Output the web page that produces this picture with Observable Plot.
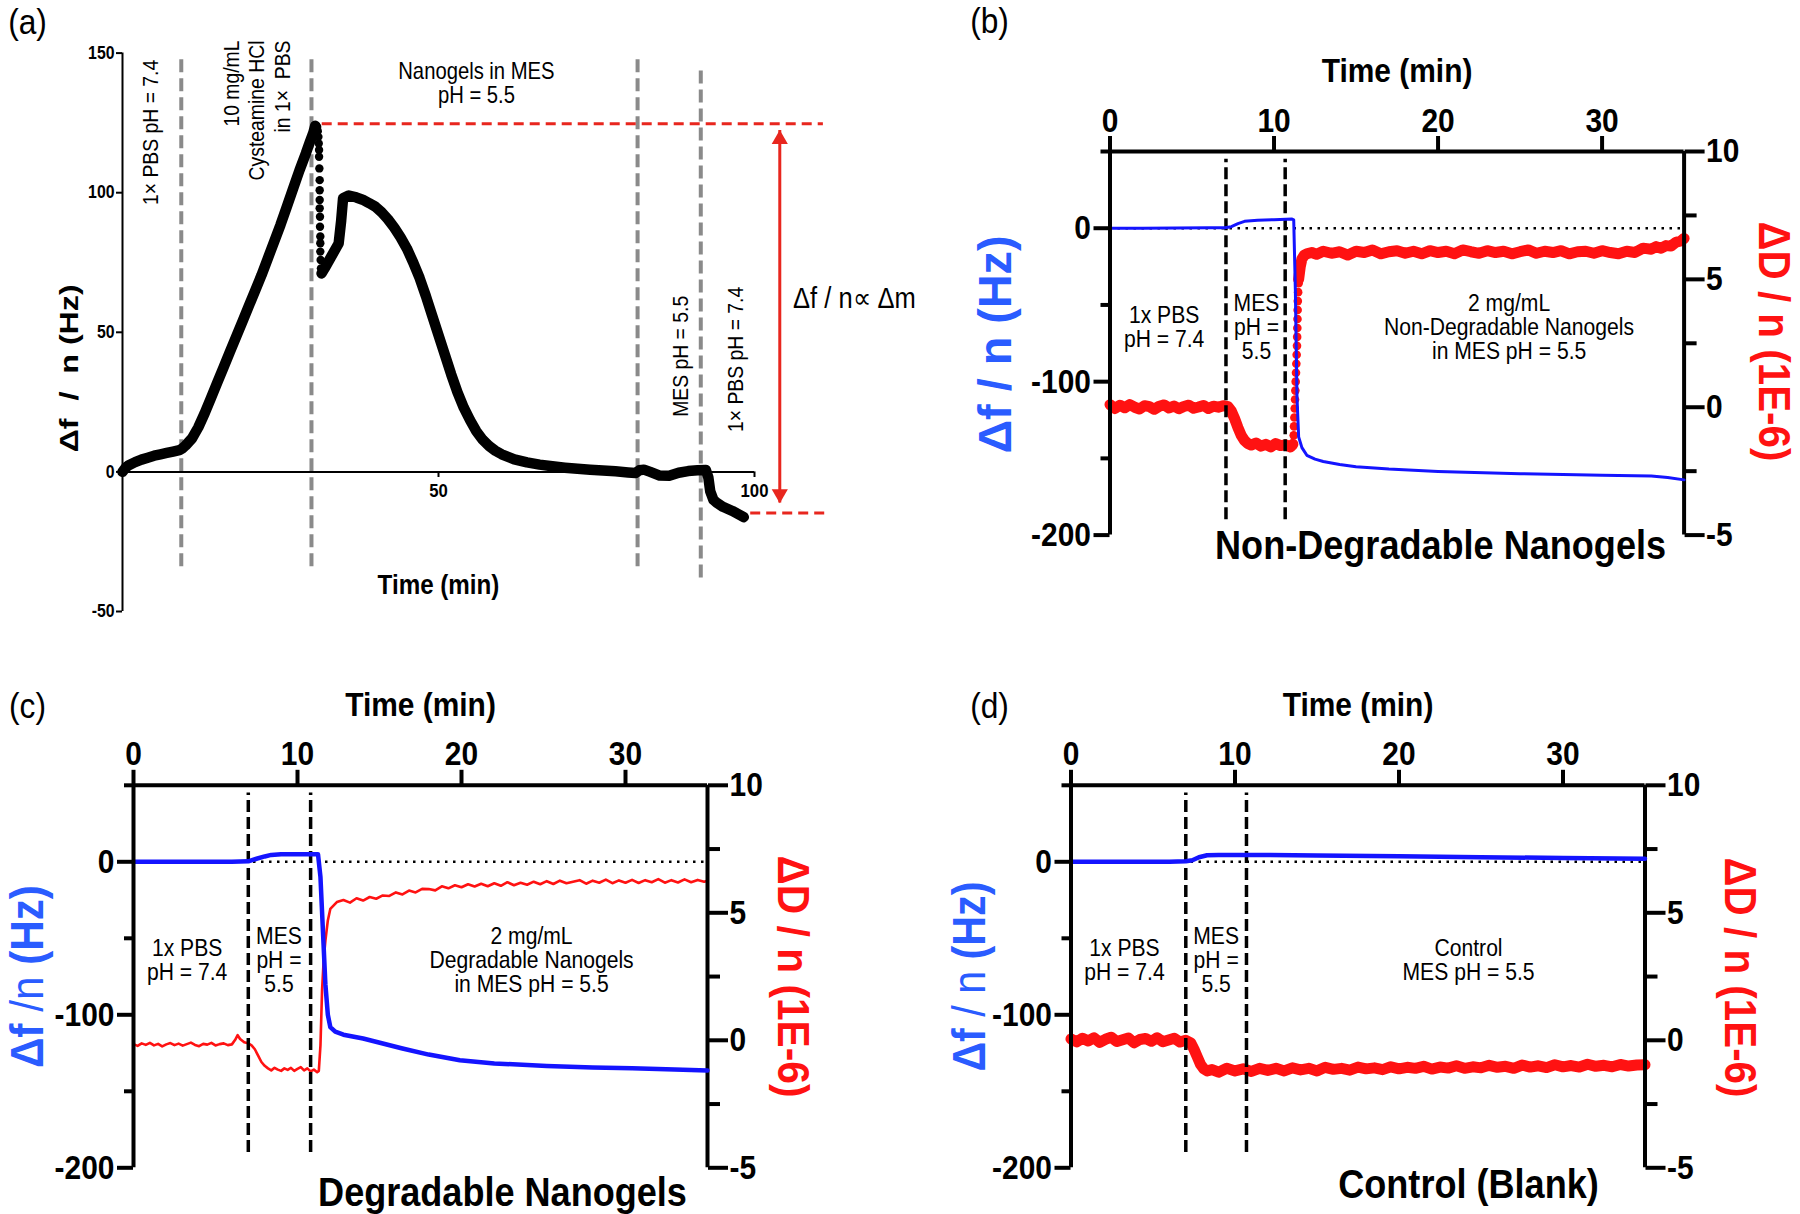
<!DOCTYPE html>
<html><head><meta charset="utf-8">
<script src="https://cdn.jsdelivr.net/npm/d3@7"></script>
<script src="https://cdn.jsdelivr.net/npm/@observablehq/plot@0.6"></script>
<style>
html,body{margin:0;padding:0;background:#fff;}
#fig{position:relative;width:1800px;height:1214px;background:#fff;overflow:hidden;}
#fig svg{position:absolute;max-width:none;}
</style></head><body><div id="fig"></div>
<script>
const FONT = "'Liberation Sans', Arial, Helvetica, sans-serif";
const RED = "#ff1212", RED_A = "#e8261e", BLUE = "#1414ff", BLUE_L = "#2a5cff", GRAY = "#8a8a8a";
const NARROW = 0.88;

// ---------- Panel (a) data : time (min), Δf/n (Hz) ----------
const aRise = [[0,0],[0.5,1.5],[1,2.4],[2,3.5],[3,4.4],[4,5.1],[5,5.8],[6,6.3],[7,6.8],[8,7.3],[9,7.8],[9.4,8.3],[10,9.5],[11,12],[12,16],[13,21],[14,26.5],[15,32],[16,37.5],[17,43],[18,48.5],[19,54],[20,59.5],[21,65],[22,70.5],[23,76.5],[24,82.5],[25,88.5],[26,95],[27,101.5],[28,108],[29,114],[29.7,118.5],[30.2,121.5],[30.5,124]];
const aSpike = [[30.6,124],[30.8,123.5],[30.9,122],[31.0,120],[31.05,117.6],[31.1,115.3],[31.1,112.9],[31.15,108.7],[31.2,104.5],[31.2,100.9],[31.2,97.4],[31.2,94.4],[31.25,91.4],[31.25,87.8],[31.3,84.3],[31.3,81.9],[31.3,78.9],[31.35,75.9],[31.4,72.9],[31.5,71.1]];
const aFall = [[31.5,71.1],[32,73],[33,77],[34.2,81.8],[34.6,90],[34.9,98],[35.8,99],[37,98.3],[38,97.5],[39,96.3],[40,95],[41,93],[42,90.5],[43,87.5],[44,84],[45,80],[46,75],[47,69.5],[48,63],[49,56],[50,49],[51,42],[52,35],[53,28.5],[54,23],[55,18.5],[56,14.5],[57,11.5],[58,9.3],[59,7.6],[60,6.3],[62,4.5],[64,3.4],[66,2.6],[68,2],[70,1.5],[72,1.1],[74,0.8],[76,0.5],[78,0.2],[80,-0.2],[81.2,-0.4],[81.8,0.6],[82.5,0.8],[83.5,0],[85,-1.3],[86.5,-1.4],[88,-0.3],[89.5,0.3],[91,0.6],[92.3,0.7],[92.7,-2],[93,-7],[93.5,-10],[94,-11],[95,-12.5],[96.5,-14],[98.3,-16.2]];
const aSteps = [{t:9.3,y1:-34,y2:149},{t:29.9,y1:-34,y2:149},{t:81.5,y1:-34,y2:149},{t:91.5,y1:-38,y2:145}];
const aTicksY = [-50,0,50,100,150];
const aTicksX = [50,100];
const aLevels = [{v:124.7,t1:31.6,t2:110.9},{v:-14.7,t1:99.4,t2:111.7}];
const aArrow = [{t:104,v1:-11.1,v2:122.3}];
const aNotesRot = [
  {t:4.43,v:121.6,label:"1× PBS pH = 7.4",anchor:"middle"},
  {t:21.1,v:154.5,label:"10 mg/mL\nCysteamine HCl\nin 1×  PBS",anchor:"end"},
  {t:88.3,v:41.4,label:"MES pH = 5.5",anchor:"middle"},
  {t:97.0,v:40.3,label:"1× PBS pH = 7.4",anchor:"middle"}
];
const aNotes = [{t:56.0,v:139.1,label:"Nanogels in MES\npH = 5.5"}];
const aDelta = [{t:115.8,v:62.2,label:"Δf / n∝ Δm"}];

// ---------- Panels (b)-(d) data : time (min), Δf/n (Hz), ΔD/n (1E-6) ----------
const timeTicks = [0,10,20,30];
const fMajor = [0,-100,-200], fMinor = [50,-50,-150];
const dMajor = [10,5,0,-5], dMinor = [7.5,2.5,-2.5];

const blueB = [[0,0],[2,0],[4,0.2],[6,0.3],[7,0.3],[7.4,1],[7.8,3],[8.2,4.5],[9,5.2],[10,5.6],[11.1,6],[11.2,5.5],[11.3,-40],[11.4,-110],[11.5,-136],[11.7,-143],[12,-148],[12.5,-150.5],[13,-152],[14,-154],[15,-155.5],[17,-157],[20,-158.5],[25,-160],[30,-161],[33,-161.5],[34,-162.5],[35,-164]];
const redB1 = [[0,0.1],[0.3,-0.05],[0.6,0.08],[0.9,-0.02],[1.2,0.1],[1.5,0],[1.8,-0.07],[2.1,0.06],[2.4,0.02],[2.7,-0.08],[3,0.04],[3.3,0.09],[3.6,-0.03],[3.9,0.05],[4.2,-0.06],[4.5,0.03],[4.8,0.08],[5.1,-0.04],[5.4,0.01],[5.7,0.07],[6,-0.05],[6.3,0.04],[6.6,0],[6.9,0.06],[7.2,0.02],[7.4,-0.15],[7.6,-0.45],[7.8,-0.8],[8,-1.1],[8.2,-1.3],[8.4,-1.42],[8.6,-1.48],[8.9,-1.4],[9.2,-1.52],[9.5,-1.45],[9.8,-1.55],[10.1,-1.42],[10.4,-1.5],[10.7,-1.47],[11,-1.55],[11.15,-1.45]];
const redBjump = [[11.2,-1.1],[11.22,-0.75],[11.24,-0.4],[11.26,-0.05],[11.28,0.3],[11.3,0.65],[11.32,1.0],[11.34,1.35],[11.36,1.7],[11.38,2.05],[11.4,2.4],[11.41,2.75],[11.42,3.1],[11.43,3.45],[11.44,3.8],[11.45,4.15],[11.47,4.5],[11.5,4.85]];
const redB2 = [[11.5,5.0],[11.6,5.5],[11.7,5.8],[11.85,5.95],[12,6.0],[12.3,6.05],[12.6,5.98],[13,6.1],[13.5,6.02],[14,6.08],[14.5,5.95],[15,6.1],[15.5,6.05],[16,6.15],[16.5,6.0],[17,6.08],[17.5,6.12],[18,6.02],[18.5,6.1],[19,6.0],[19.5,6.12],[20,6.05],[20.5,6.1],[21,6.0],[21.5,6.15],[22,6.08],[22.5,6.02],[23,6.12],[23.5,6.05],[24,6.1],[24.5,6.0],[25,6.08],[25.5,6.15],[26,6.02],[26.5,6.1],[27,6.05],[27.5,6.12],[28,6.0],[28.5,6.08],[29,6.1],[29.5,6.02],[30,6.12],[30.5,6.05],[31,6.0],[31.5,6.1],[32,6.05],[32.5,6.22],[33,6.18],[33.3,6.28],[33.6,6.22],[33.9,6.32],[34.2,6.3],[34.5,6.45],[34.8,6.5],[35,6.6]];
const stepsB = [7.07,10.68];

const blueC = [[0,0],[3,0],[6,0],[7,0.3],[7.5,2],[8,3.5],[8.4,4.5],[9,5],[10,5],[11,5],[11.25,5],[11.4,-10],[11.55,-45],[11.7,-80],[11.85,-100],[12,-108],[12.3,-111],[12.8,-113],[14,-115.5],[16.4,-122],[18,-126],[19.9,-129.7],[22,-131.8],[25.2,-133.4],[28,-134.5],[30.4,-135],[33,-135.8],[35,-136.4]];
const redC = [[0,-0.15],[0.25,-0.22],[0.5,-0.12],[0.75,-0.18],[1,-0.1],[1.25,-0.2],[1.5,-0.14],[1.75,-0.24],[2,-0.16],[2.25,-0.11],[2.5,-0.19],[2.75,-0.13],[3,-0.21],[3.25,-0.15],[3.5,-0.09],[3.75,-0.18],[4,-0.23],[4.25,-0.14],[4.5,-0.17],[4.75,-0.1],[5,-0.2],[5.25,-0.15],[5.5,-0.12],[5.75,-0.19],[6,-0.16],[6.2,0.02],[6.35,0.2],[6.5,0.05],[6.75,-0.08],[7,-0.12],[7.2,-0.2],[7.4,-0.35],[7.6,-0.6],[7.8,-0.85],[8,-1],[8.2,-1.1],[8.4,-1.18],[8.6,-1.08],[8.8,-1.15],[9,-1.2],[9.2,-1.1],[9.4,-1.16],[9.6,-1.08],[9.8,-1.2],[10,-1.12],[10.2,-1.05],[10.4,-1.18],[10.6,-1.1],[10.8,-1.22],[11,-1.15],[11.2,-1.25],[11.3,-1.2],[11.4,-0.2],[11.5,2],[11.6,3.2],[11.7,3.9],[11.85,4.7],[12,5.15],[12.4,5.42],[12.8,5.5],[13.2,5.4],[13.6,5.57],[14,5.48],[14.4,5.62],[14.8,5.55],[15.2,5.68],[15.6,5.66],[16,5.8],[16.4,5.72],[16.8,5.87],[17.2,5.8],[17.6,5.94],[18,5.93],[18.4,5.88],[18.8,6.04],[19.2,5.96],[19.6,6.08],[20,6.0],[20.4,6.12],[20.8,6.03],[21.2,6.14],[21.6,6.04],[22,6.16],[22.4,6.06],[22.8,6.2],[23.2,6.08],[23.6,6.18],[24,6.1],[24.4,6.22],[24.8,6.12],[25.2,6.24],[25.6,6.13],[26,6.26],[26.4,6.16],[26.8,6.22],[27.2,6.28],[27.6,6.14],[28,6.26],[28.4,6.18],[28.8,6.3],[29.2,6.16],[29.6,6.27],[30,6.18],[30.4,6.29],[30.8,6.17],[31.2,6.28],[31.6,6.2],[32,6.32],[32.4,6.18],[32.8,6.28],[33.2,6.19],[33.6,6.31],[34,6.2],[34.4,6.29],[34.8,6.22],[35,6.26]];
const stepsC = [7.0,10.8];

const blueD = [[0,0],[3,0],[6,0],[7,0.3],[7.4,1],[7.8,3],[8.3,4.3],[9,4.5],[10,4.5],[12,4.4],[15,4.1],[20,3.6],[25,3.0],[30,2.5],[35,2.0]];
const redD = [[0,0.05],[0.35,-0.06],[0.7,0.08],[1.05,-0.03],[1.4,0.1],[1.75,-0.08],[2.1,0.04],[2.45,0.12],[2.8,-0.05],[3.15,0.02],[3.5,0.09],[3.85,-0.1],[4.2,0.03],[4.55,0.07],[4.9,-0.04],[5.25,0.1],[5.6,-0.06],[5.95,0.01],[6.3,0.08],[6.65,-0.07],[7,0],[7.3,-0.1],[7.5,-0.35],[7.7,-0.65],[7.9,-0.95],[8.1,-1.12],[8.3,-1.2],[8.6,-1.15],[9,-1.25],[9.5,-1.1],[10,-1.2],[10.5,-1.12],[11,-1.22],[11.5,-1.1],[12,-1.18],[12.5,-1.1],[13,-1.2],[13.5,-1.08],[14,-1.16],[14.5,-1.1],[15,-1.2],[15.5,-1.06],[16,-1.14],[16.5,-1.1],[17,-1.17],[17.5,-1.05],[18,-1.12],[18.5,-1.08],[19,-1.15],[19.5,-1.04],[20,-1.12],[20.5,-1.06],[21,-1.1],[21.5,-1.02],[22,-1.13],[22.5,-1.05],[23,-1.09],[23.5,-1.0],[24,-1.1],[24.5,-1.04],[25,-1.08],[25.5,-0.98],[26,-1.06],[26.5,-1.02],[27,-1.1],[27.5,-0.97],[28,-1.05],[28.5,-1.0],[29,-1.07],[29.5,-0.96],[30,-1.04],[30.5,-0.99],[31,-1.05],[31.5,-0.94],[32,-1.02],[32.5,-0.98],[33,-1.04],[33.5,-0.95],[34,-1.01],[34.5,-0.97],[35,-0.96]];
const stepsD = [7.0,10.7];

const notesB = [{t:3.3,v:-64.4,label:"1x PBS\npH = 7.4"},{t:8.93,v:-64.4,label:"MES\npH =\n5.5"},{t:24.33,v:-64.4,label:"2 mg/mL\nNon-Degradable Nanogels\nin MES pH = 5.5"}];
const notesC = [{t:3.27,v:-64.6,label:"1x PBS\npH = 7.4"},{t:8.87,v:-64.6,label:"MES\npH =\n5.5"},{t:24.27,v:-64.6,label:"2 mg/mL\nDegradable Nanogels\nin MES pH = 5.5"}];
const notesD = [{t:3.26,v:-64.6,label:"1x PBS\npH = 7.4"},{t:8.85,v:-64.6,label:"MES\npH =\n5.5"},{t:24.24,v:-64.6,label:"Control\nMES pH = 5.5"}];

const pts = arr => arr.map(([t, v]) => ({t, v}));
const fig = document.getElementById("fig");
function place(svg, left, top) {
  svg.style.position = "absolute"; svg.style.left = left + "px"; svg.style.top = top + "px";
  svg.style.background = "transparent"; svg.style.overflow = "visible"; svg.style.maxWidth = "none";
  fig.appendChild(svg);
}
function squeeze(svg, label, len, parts) {
  const t = d3.select(svg).selectAll("text").filter(function(){ return this.textContent === label; });
  t.attr("textLength", len).attr("lengthAdjust", "spacingAndGlyphs").style("white-space", "pre");
  if (parts) { t.text(null); parts.forEach(([s, w]) => t.append("tspan").attr("font-weight", w).text(s)); }
}
// narrow (condensed) lettering, as in the original figure
function condense(svg, k) {
  d3.select(svg).selectAll("text").each(function() {
    if (this.hasAttribute("textLength")) return;
    const tr = this.getAttribute("transform");
    if (tr) this.setAttribute("transform", tr + ` scale(${k},1)`);
    else {
      const x = +this.getAttribute("x") || 0;
      this.setAttribute("transform", `translate(${x},0) scale(${k},1) translate(${-x},0)`);
    }
  });
}

// ---------- Panel (a) ----------
const svgA = Plot.plot({
  width:900, height:620, marginLeft:122, marginRight:146, marginTop:52.6, marginBottom:9,
  x:{domain:[0,100], axis:null}, y:{domain:[-50,150], axis:null},
  style:{fontFamily:FONT, background:"transparent", overflow:"visible"},
  marks:[
    Plot.ruleX(aSteps, {x:"t", y1:"y1", y2:"y2", stroke:GRAY, strokeWidth:4, strokeDasharray:"13,6"}),
    Plot.ruleY(aLevels, {y:"v", x1:"t1", x2:"t2", stroke:RED_A, strokeWidth:3, strokeDasharray:"10,6"}),
    Plot.ruleX(aArrow, {x:"t", y1:"v1", y2:"v2", stroke:RED_A, strokeWidth:3}),
    Plot.dot(aArrow, {x:"t", y:"v2", symbol:"triangle", r:6, fill:RED_A, stroke:null, dy:9}),
    Plot.dot(aArrow, {x:"t", y:"v1", symbol:"triangle", r:6, fill:RED_A, stroke:null, rotate:180, dy:-9}),
    Plot.ruleX([0], {y1:-50, y2:150, strokeWidth:2}),
    Plot.ruleY([0], {x1:0, x2:100, strokeWidth:2}),
    Plot.axisY({anchor:"left", ticks:aTicksY, tickSize:6, tickPadding:2, strokeWidth:2, fontSize:18, fontWeight:"bold", tickFormat:d=>String(d), label:null}),
    Plot.ruleX(aTicksX, {x:d=>d, y1:0, y2:-2, strokeWidth:2}),
    Plot.text(aTicksX, {x:d=>d, y:0, dy:19, text:d=>String(d), fontSize:19, fontWeight:"bold"}),
    Plot.line(pts(aRise), {x:"t", y:"v", stroke:"black", strokeWidth:10.5, strokeLinejoin:"round", strokeLinecap:"round"}),
    Plot.dot(pts(aSpike), {x:"t", y:"v", r:4.2, fill:"black", stroke:null}),
    Plot.line(pts(aFall), {x:"t", y:"v", stroke:"black", strokeWidth:10.5, strokeLinejoin:"round", strokeLinecap:"round"}),
    Plot.text(aNotesRot, {x:"t", y:"v", text:"label", rotate:-90, textAnchor:"end", lineAnchor:"middle", fontSize:22, lineHeight:1.16, filter:d=>d.anchor==="end"}),
    Plot.text(aNotesRot, {x:"t", y:"v", text:"label", rotate:-90, textAnchor:"middle", lineAnchor:"middle", fontSize:22, filter:d=>d.anchor==="middle"}),
    Plot.text(aNotes, {x:"t", y:"v", text:"label", fontSize:23, lineHeight:1.05, lineAnchor:"middle"}),
    Plot.text(aDelta, {x:"t", y:"v", text:"label", fontSize:29, lineAnchor:"middle"}),
    Plot.text(["Time (min)"], {text:d=>d, frameAnchor:"bottom", dy:-26, textAnchor:"middle", lineAnchor:"middle", fontSize:27.5, fontWeight:"bold"}),
    Plot.text(["Δf  /  n (Hz)"], {text:d=>d, frameAnchor:"left", rotate:-90, dx:-53, dy:36, textAnchor:"middle", lineAnchor:"middle", fontSize:26, fontWeight:"bold"}),
    Plot.text(["(a)"], {text:d=>d, frameAnchor:"top-left", dx:-95, dy:-31, textAnchor:"middle", lineAnchor:"middle", fontSize:36})
  ]
});
place(svgA, 0, 0);
squeeze(svgA, "Δf  /  n (Hz)", 168);
condense(svgA, NARROW);

// ---------- Panels (b)-(d) ----------
function dualPanel(c) {
  const frame = {width:900, height:c.h, marginLeft:c.mL, marginRight:c.mR, marginTop:c.mT, marginBottom:c.mB, x:{domain:[0,35], axis:null}};
  const red = Plot.plot({
    ...frame, y:{domain:[-5,10], axis:null},
    style:{fontFamily:FONT, background:"transparent", overflow:"visible"},
    marks:[
      ...c.redLines.map(seg => Plot.line(pts(seg), {x:"t", y:"v", stroke:RED, strokeWidth:c.redW, strokeLinejoin:"round", strokeLinecap:"round"})),
      ...(c.redDots ? [Plot.dot(pts(c.redDots), {x:"t", y:"v", r:c.redDotR, fill:RED, stroke:null})] : []),
      Plot.ruleX([35], {y1:-5, y2:10, strokeWidth:4}),
      Plot.axisY({anchor:"right", ticks:dMajor, tickSize:20, tickPadding:2, strokeWidth:4, fontSize:34, fontWeight:"bold", tickFormat:d=>String(d), label:null}),
      Plot.axisY({anchor:"right", ticks:dMinor, tickSize:12, strokeWidth:4, tickFormat:()=>"", label:null}),
      Plot.text([c.rLabel], {text:d=>d, frameAnchor:"right", rotate:90, dx:c.rDx, dy:c.rDy, textAnchor:"middle", lineAnchor:"middle", fill:RED, fontSize:45, fontWeight:"bold"})
    ]
  });
  const blue = Plot.plot({
    ...frame, y:{domain:[-200,50], axis:null},
    style:{fontFamily:FONT, background:"transparent", overflow:"visible"},
    marks:[
      Plot.ruleY([0], {x1:0, x2:35, strokeWidth:2.5, strokeDasharray:"2.5,5.5"}),
      Plot.ruleX(c.steps, {x:d=>d, y1:-190, y2:45, strokeWidth:3.5, strokeDasharray:"12,5"}),
      Plot.line(pts(c.blue), {x:"t", y:"v", stroke:BLUE, strokeWidth:c.blueW, strokeLinejoin:"round", strokeLinecap:"round"}),
      Plot.ruleX([0], {y1:-200, y2:50, strokeWidth:4}),
      Plot.ruleY([50], {x1:0, x2:35, strokeWidth:4}),
      Plot.axisX({anchor:"top", ticks:timeTicks, tickSize:16, tickPadding:4, strokeWidth:4, fontSize:34, fontWeight:"bold", tickFormat:d=>String(d), label:null}),
      Plot.axisY({anchor:"left", ticks:fMajor, tickSize:16, tickPadding:3, strokeWidth:4, fontSize:34, fontWeight:"bold", tickFormat:d=>String(d), label:null}),
      Plot.axisY({anchor:"left", ticks:fMinor, tickSize:9, strokeWidth:4, tickFormat:()=>"", label:null}),
      Plot.text(c.notes, {x:"t", y:"v", text:"label", fontSize:24, lineHeight:1.0, lineAnchor:"middle"}),
      Plot.text(["Time (min)"], {text:d=>d, frameAnchor:"top", dy:c.timeDy, textAnchor:"middle", lineAnchor:"middle", fontSize:34, fontWeight:"bold"}),
      Plot.text([c.title], {text:d=>d, frameAnchor:"bottom", dx:c.tDx, dy:c.tDy, textAnchor:"middle", lineAnchor:"middle", fontSize:41, fontWeight:"bold"}),
      Plot.text([c.letter], {text:d=>d, frameAnchor:"top-left", dx:c.letDx, dy:c.letDy, textAnchor:"middle", lineAnchor:"middle", fontSize:36}),
      Plot.text([c.lLabel], {text:d=>d, frameAnchor:"left", rotate:-90, dx:c.lDx, dy:c.lDy, textAnchor:"middle", lineAnchor:"middle", fill:BLUE_L, fontSize:47, fontWeight:"bold"})
    ]
  });
  place(red, c.left, c.top);
  place(blue, c.left, c.top);
  squeeze(red, c.rLabel, c.rLen);
  squeeze(blue, c.lLabel, c.lLen, c.lParts);
  condense(red, NARROW);
  condense(blue, NARROW);
}

dualPanel({left:900, top:0, h:620, mL:209.5, mR:116.4, mT:151, mB:85.4,
  blue:blueB, blueW:3, redLines:[redB1, redB2], redDots:redBjump, redDotR:4.3, redW:11, steps:stepsB, notes:notesB,
  timeDy:-80, title:"Non-Degradable Nanogels", tDx:43.5, tDy:11, letter:"(b)", letDx:-120.5, letDy:-130,
  lLabel:"Δf / n (Hz)", lDx:-114.5, lDy:1.2, lLen:218, rLabel:"ΔD / n (1E-6)", rDx:89, rDy:-1.8, rLen:240});

dualPanel({left:0, top:620, h:594, mL:133, mR:193, mT:164.8, mB:46.7,
  blue:blueC, blueW:4.5, redLines:[redC], redW:2.6, steps:stepsC, notes:notesC,
  timeDy:-79.8, title:"Degradable Nanogels", tDx:82, tDy:24.7, letter:"(c)", letDx:-106, letDy:-78.8,
  lLabel:"Δf /n (Hz)", lDx:-106, lDy:0, lLen:183, lParts:[["Δf","bold"],[" /n ","normal"],["(Hz)","bold"]],
  rLabel:"ΔD / n (1E-6)", rDx:85, rDy:0, rLen:242});

dualPanel({left:900, top:620, h:594, mL:170.5, mR:155.5, mT:164.8, mB:46.7,
  blue:blueD, blueW:4.5, redLines:[redD], redW:11, steps:stepsD, notes:notesD,
  timeDy:-79.8, title:"Control (Blank)", tDx:110.5, tDy:16.7, letter:"(d)", letDx:-81.5, letDy:-78.8,
  lLabel:"Δf / n (Hz)", lDx:-101.5, lDy:0, lLen:190, lParts:[["Δf ","bold"],["/ n ","normal"],["(Hz)","bold"]],
  rLabel:"ΔD / n (1E-6)", rDx:94.5, rDy:1, rLen:240});
</script></body></html>
